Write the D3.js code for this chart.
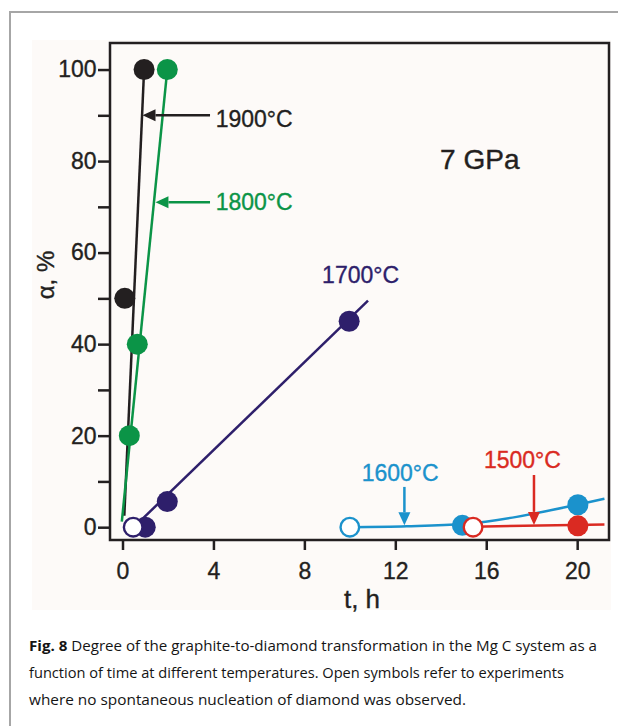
<!DOCTYPE html>
<html>
<head>
<meta charset="utf-8">
<script src="https://cdn.jsdelivr.net/npm/d3@7"></script>
<style>
  body { margin: 0; background: #fff; }
  text { font-family: "Liberation Sans", Arial, sans-serif; }
</style>
</head>
<body>
<div class="fig"></div>
<script>
// values (t in h, alpha in %)
var xTicks = [0, 4, 8, 12, 16, 20];
var yTicks = [0, 20, 40, 60, 80, 100];
var yMinor = [10, 30, 50, 70, 90];

var temps = ["1900°C", "1800°C", "1700°C", "1600°C", "1500°C"];
var colors = ["#231f20", "#0b9447", "#2e1f6b", "#1b92cc", "#da2a22"];

var filled1900 = [[0.1, 50], [0.95, 100]];
var filled1800 = [[0.3, 20], [0.65, 40], [1.97, 100]];
var filled1700 = [[1.0, 0], [1.97, 5.6], [9.97, 45]];
var filled1600 = [[14.95, 0.4], [20.03, 4.9]];
var filled1500 = [[20.03, 0.3]];

var open1700 = [[0.47, 0]];
var open1600 = [[10, 0]];
var open1500 = [[15.42, 0]];

var fit1900 = [[0.08, 2.5], [0.95, 100]];
var fit1800 = [[-0.03, 1.2], [1.97, 100]];
var fit1700 = [[0.5, 0], [10.8, 49.5]];
var fit1600 = [[10, 0], [12.5, 0.2], [15, 0.7], [20, 4.9], [21.2, 6.2]];
var fit1500 = [[15.42, 0.1], [21.2, 0.6]];

// arrows: [from, to] and label [t, alpha]
var arrows = [
  [[3.85, 90], [0.88, 90]],
  [[3.85, 71], [1.45, 71]],
  null,
  [[12.4, 8.8], [12.4, 0.4]],
  [[18.1, 11.4], [18.1, 0.5]]
];
var labelPos = [[4.1, 87.5], [4.1, 69.2], [8.78, 53.4], [10.52, 10.0], [15.9, 13.0]];

var caption = [
  "Degree of the graphite-to-diamond transformation in the Mg C system as a",
  "function of time at different temperatures. Open symbols refer to experiments",
  "where no spontaneous nucleation of diamond was observed."
];

var W = 618, H = 726;
var svg = d3.select(".fig").append("svg")
    .attr("width", W)
    .attr("height", H);

// outer frame + picture background
svg.append("rect")
    .attr("x", 10).attr("y", 12)
    .attr("width", 640).attr("height", 760)
    .attr("fill", "none")
    .attr("stroke", "#a6a6a6")
    .attr("stroke-width", 2);
svg.append("rect")
    .attr("x", 32).attr("y", 40)
    .attr("width", 579).attr("height", 570)
    .attr("fill", "#fdfaf8");

var plot = {left: 110, top: 43, right: 609, bottom: 540};

var x = d3.scaleLinear().domain([-0.55, 21.4]).range([plot.left, plot.right]);
var y = d3.scaleLinear().domain([-2.8, 105.8]).range([plot.bottom, plot.top]);

var ink = "#231f20";

// axes
var gy = svg.append("g")
    .attr("transform", "translate(" + plot.left + ",0)")
    .call(d3.axisLeft(y).tickValues(yTicks).tickSize(12).tickPadding(1.5).tickFormat(d3.format("d")));
var gyMinor = svg.append("g")
    .attr("transform", "translate(" + plot.left + ",0)")
    .call(d3.axisLeft(y).tickValues(yMinor).tickSize(12).tickFormat(""));
var gx = svg.append("g")
    .attr("transform", "translate(0," + plot.bottom + ")")
    .call(d3.axisBottom(x).tickValues(xTicks).tickSize(10).tickPadding(12.5).tickFormat(d3.format("d")));

[gy, gyMinor, gx].forEach(function(g){
  g.select(".domain").remove();
  g.selectAll("line").attr("stroke", ink).attr("stroke-width", 2.5);
  g.selectAll("text")
    .attr("fill", ink)
    .attr("stroke", ink)
    .attr("stroke-width", 0.35)
    .style("font-size", "23px")
    .style("font-family", "'Liberation Sans', Arial, sans-serif");
});

svg.append("rect")
    .attr("x", plot.left).attr("y", plot.top)
    .attr("width", plot.right - plot.left)
    .attr("height", plot.bottom - plot.top)
    .attr("fill", "none")
    .attr("stroke", ink)
    .attr("stroke-width", 2.5);

// axis titles
svg.append("text")
    .attr("x", 362)
    .attr("y", 608)
    .attr("text-anchor", "middle")
    .attr("fill", ink)
    .attr("stroke", ink)
    .attr("stroke-width", 0.35)
    .style("font-size", "26px")
    .text("t, h");
svg.append("text")
    .attr("transform", "translate(54,275) rotate(-90)")
    .attr("text-anchor", "middle")
    .attr("fill", ink)
    .attr("stroke", ink)
    .attr("stroke-width", 0.35)
    .style("font-size", "24px")
    .text("α, %");

svg.append("text")
    .attr("x", x(13.97)).attr("y", y(78.3))
    .attr("fill", ink)
    .attr("stroke", ink)
    .attr("stroke-width", 0.4)
    .style("font-size", "28px")
    .text("7 GPa");

// fitted lines
var line = d3.line()
    .x(function(d){ return x(d[0]); })
    .y(function(d){ return y(d[1]); })
    .curve(d3.curveMonotoneX);

var fits = [fit1900, fit1800, fit1700, fit1600, fit1500];
var filled = [filled1900, filled1800, filled1700, filled1600, filled1500];
var opens = [[], [], open1700, open1600, open1500];

fits.forEach(function(f, i){
  svg.append("path")
    .datum(f)
    .attr("fill", "none")
    .attr("stroke", colors[i])
    .attr("stroke-width", 2.5)
    .attr("d", line);
});

// arrows + labels
arrows.forEach(function(a, i){
  if (a) {
    var x0 = x(a[0][0]), y0 = y(a[0][1]), x1 = x(a[1][0]), y1 = y(a[1][1]);
    var ang = Math.atan2(y1 - y0, x1 - x0), len = 13, hw = 6;
    var bx = x1 - len * Math.cos(ang), by = y1 - len * Math.sin(ang);
    svg.append("line")
      .attr("x1", x0).attr("y1", y0).attr("x2", bx).attr("y2", by)
      .attr("stroke", colors[i]).attr("stroke-width", 2.5);
    svg.append("path")
      .attr("d", "M" + x1 + "," + y1 +
        "L" + (bx - hw * Math.sin(ang)) + "," + (by + hw * Math.cos(ang)) +
        "L" + (bx + hw * Math.sin(ang)) + "," + (by - hw * Math.cos(ang)) + "Z")
      .attr("fill", colors[i]);
  }
  svg.append("text")
    .attr("x", x(labelPos[i][0])).attr("y", y(labelPos[i][1]))
    .attr("fill", colors[i])
    .attr("stroke", colors[i])
    .attr("stroke-width", 0.35)
    .style("font-size", "23px")
    .text(temps[i]);
});

// markers: filled first, open on top
var r = 10.5;
filled.forEach(function(pts, i){
  svg.selectAll(null).data(pts).enter().append("circle")
    .attr("cx", function(d){ return x(d[0]); })
    .attr("cy", function(d){ return y(d[1]); })
    .attr("r", r)
    .attr("fill", colors[i]);
});
opens.forEach(function(pts, i){
  svg.selectAll(null).data(pts).enter().append("circle")
    .attr("cx", function(d){ return x(d[0]); })
    .attr("cy", function(d){ return y(d[1]); })
    .attr("r", r - 1.2)
    .attr("fill", "#fff")
    .attr("stroke", colors[i])
    .attr("stroke-width", 2.4);
});

// caption
var capLens = [568, 535, 437];
caption.forEach(function(c, i){
  var t = svg.append("text")
    .attr("x", 29).attr("y", 651 + i * 27)
    .attr("fill", "#141414")
    .style("font-family", "'Open Sans', sans-serif")
    .style("font-size", "15px")
    .attr("textLength", capLens[i])
    .attr("lengthAdjust", "spacingAndGlyphs");
  if (i === 0) {
    t.append("tspan").style("font-weight", "bold").text("Fig. 8 ");
  }
  t.append("tspan").text(c);
});
</script>
</body>
</html>
